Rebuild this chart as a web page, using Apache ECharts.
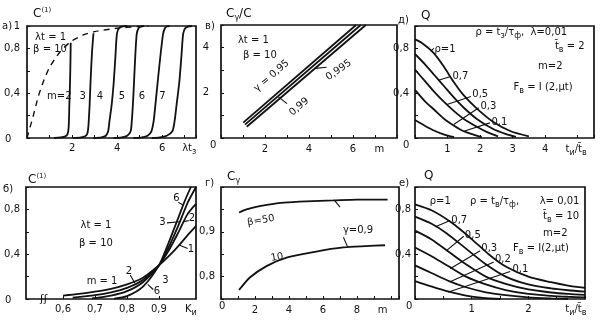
<!DOCTYPE html>
<html>
<head>
<meta charset="utf-8">
<script src="https://cdn.jsdelivr.net/npm/echarts@6/dist/echarts.min.js"></script>
<style>
  html, body { margin: 0; padding: 0; background: #fff; }
  #c { width: 605px; height: 322px; }
</style>
</head>
<body>
<div id="c"></div>
<script>
// ---------- panel а: C(1) against λt_з, curves for m = 2..7 ----------
const aEnvelope = [[0,0],[0.28,0.2],[0.5,0.37],[0.72,0.5],[1.0,0.63],[1.47,0.77],[1.94,0.86],[2.5,0.92],[3.0,0.95],[4.0,0.98],[4.9,0.995],[5.4,1.0]];
const aM2 = [[1.2,0],[1.5,0.005],[1.7,0.015],[1.8,0.035],[1.85,0.1],[1.88,0.3],[1.91,0.5],[1.93,0.7],[1.94,0.85]];
const aM3 = [[2.05,0],[2.4,0.005],[2.58,0.015],[2.68,0.04],[2.73,0.12],[2.78,0.3],[2.82,0.5],[2.88,0.75],[2.95,0.935]];
const aM4 = [[2.95,0],[3.3,0.005],[3.5,0.02],[3.6,0.06],[3.66,0.15],[3.76,0.3],[3.85,0.5],[3.93,0.75],[3.99,0.93],[4.08,0.98],[4.25,0.997],[4.45,1.0]];
const aM5 = [[3.84,0],[4.2,0.005],[4.45,0.02],[4.6,0.06],[4.65,0.15],[4.7,0.3],[4.75,0.5],[4.81,0.75],[4.87,0.93],[4.95,0.98],[5.05,0.995],[5.2,1.0]];
const aM6 = [[4.73,0],[5.1,0.005],[5.35,0.02],[5.52,0.06],[5.62,0.15],[5.7,0.3],[5.8,0.5],[5.93,0.75],[6.04,0.93],[6.12,0.98],[6.2,0.995],[6.32,1.0]];
const aM7 = [[5.54,0],[5.9,0.005],[6.2,0.02],[6.45,0.06],[6.55,0.15],[6.64,0.3],[6.76,0.5],[6.86,0.75],[6.93,0.93],[7.02,0.98],[7.15,0.995],[7.32,1.0]];
const aXLabels = [2, 4, 6, 7.2];
const aYLabels = [0.4, 0.8, 1];

// ---------- panel в: Cγ/C against m ----------
const vG095  = [[1.01,0.68],[6.14,5.0]];
const vG099  = [[1.09,0.59],[6.35,5.0]];
const vG0995 = [[1.17,0.50],[6.58,5.0]];
const vLead099  = [[2.6,1.83],[3.0,1.52]];
const vLead0995 = [[4.27,3.08],[4.8,3.13]];
const vXLabels = [2, 4, 6, 7.2];
const vYLabels = [2, 4];

// ---------- panel д: Q against t_и / t̄_в, t̄_в = 2 ----------
const dRho1  = [[0,0.88],[0.2,0.85],[0.57,0.76],[0.88,0.64],[1.19,0.5],[1.5,0.38],[1.91,0.26],[2.42,0.14],[2.94,0.06],[3.5,0.015]];
const dRho07 = [[0,0.75],[0.3,0.66],[0.6,0.56],[0.9,0.46],[1.2,0.36],[1.5,0.27],[1.9,0.17],[2.4,0.08],[2.8,0.035],[3.1,0.01]];
const dRho05 = [[0,0.61],[0.3,0.51],[0.6,0.41],[0.9,0.32],[1.2,0.24],[1.5,0.17],[1.9,0.1],[2.2,0.055],[2.55,0.015]];
const dRho03 = [[0,0.43],[0.3,0.33],[0.6,0.25],[0.9,0.17],[1.2,0.11],[1.5,0.06],[1.8,0.03],[2.05,0.008]];
const dRho01 = [[0,0.16],[0.3,0.11],[0.6,0.065],[0.9,0.03],[1.2,0.008]];
const dLead1  = [[0.48,0.775],[0.58,0.8]];
const dLead07 = [[1.1,0.55],[0.72,0.515]];
const dLead05 = [[1.72,0.37],[0.98,0.3]];
const dLead03 = [[1.96,0.27],[1.19,0.12]];
const dLead01 = [[2.3,0.135],[1.5,0.06]];
const dXLabels = [1, 2, 3, 4, 4.95];
const dYLabels = [0.4, 0.8];

// ---------- panel б: C(1) against K_и ----------
const bM1 = [[0.6,0.03],[0.65,0.045],[0.7,0.065],[0.75,0.09],[0.8,0.13],[0.85,0.19],[0.9,0.3],[0.93,0.38],[0.96,0.47],[0.99,0.57],[1.016,0.65]];
const bM2 = [[0.63,0.012],[0.7,0.035],[0.75,0.06],[0.8,0.1],[0.85,0.17],[0.9,0.3],[0.93,0.43],[0.96,0.59],[0.99,0.76],[1.016,0.85]];
const bM3 = [[0.69,0.005],[0.75,0.03],[0.8,0.07],[0.85,0.15],[0.9,0.3],[0.93,0.46],[0.96,0.65],[0.99,0.86],[1.016,1.0]];
const bM6 = [[0.76,0.003],[0.8,0.025],[0.85,0.11],[0.9,0.3],[0.93,0.5],[0.96,0.72],[0.98,0.87],[1.0,1.0]];
const bLead2b = [[0.81,0.215],[0.825,0.14]];
const bLead6b = [[0.865,0.13],[0.882,0.085]];
const bLead6t = [[0.96,0.865],[0.975,0.84]];
const bLead3t = [[0.925,0.68],[0.965,0.69]];
const bLead2t = [[0.975,0.69],[0.993,0.7]];
const bLead1t = [[0.965,0.48],[0.99,0.45]];
const bXLabels = [0.6, 0.7, 0.8, 0.9, 1.0];
const bYLabels = [0.4, 0.8];

// ---------- panel г: Cγ against m ----------
const gB50 = [[1.06,0.943],[1.5,0.95],[2,0.955],[2.7,0.96],[3.7,0.965],[5,0.968],[6.6,0.97],[8,0.972],[9.8,0.972]];
const gB10 = [[1.06,0.77],[1.7,0.798],[2.7,0.824],[3.9,0.843],[5.6,0.856],[7.2,0.865],[8.5,0.868],[9.65,0.87]];
const gLeadUp  = [[6.7,0.969],[7.0,0.955]];
const gLeadLow = [[7.2,0.888],[7.45,0.866]];
const gXLabels = [2, 4, 6, 8, 9.5];
const gYLabels = [0.8, 0.9];

// ---------- panel е: Q against t_и / t̄_в, t̄_в = 10 ----------
const eRho1  = [[0,0.845],[0.3,0.79],[0.65,0.68],[1.0,0.535],[1.3,0.4],[1.6,0.29],[2.0,0.2],[2.4,0.15],[2.7,0.12],[3.0,0.1]];
const eRho07 = [[0,0.735],[0.3,0.67],[0.55,0.59],[0.9,0.45],[1.25,0.31],[1.6,0.2],[2.0,0.13],[2.4,0.095],[2.7,0.078],[3.0,0.065]];
const eRho05 = [[0,0.61],[0.3,0.53],[0.6,0.42],[0.9,0.31],[1.25,0.2],[1.6,0.135],[2.0,0.085],[2.4,0.058],[2.7,0.045],[3.0,0.036]];
const eRho03 = [[0,0.46],[0.3,0.38],[0.6,0.29],[0.9,0.2],[1.25,0.13],[1.6,0.08],[2.0,0.045],[2.4,0.028],[2.7,0.02],[3.0,0.015]];
const eRho02 = [[0,0.3],[0.3,0.23],[0.6,0.16],[0.9,0.105],[1.25,0.06],[1.6,0.035],[2.0,0.015],[2.4,0.005],[2.7,0.0]];
const eRho01 = [[0,0.16],[0.3,0.11],[0.6,0.065],[0.9,0.03],[1.2,0.01],[1.5,0.0]];
const eLead07 = [[0.62,0.70],[0.36,0.645]];
const eLead05 = [[0.86,0.56],[0.55,0.43]];
const eLead03 = [[1.15,0.43],[0.62,0.27]];
const eLead02 = [[1.39,0.33],[0.62,0.155]];
const eLead01 = [[1.68,0.245],[0.58,0.06]];
const eXLabels = [1, 2, 2.84];
const eYLabels = [0.4, 0.8];

// ---------- drawing ----------
const INK = '#111111';
const FONT = 'DejaVu Sans';
const RICH = {
  sub: { fontSize: 8, fontFamily: FONT, color: INK, fill: INK, verticalAlign: 'bottom', lineHeight: 15 },
  sup: { fontSize: 7, fontFamily: FONT, color: INK, fill: INK, verticalAlign: 'top', lineHeight: 15 }
};
const comma = v => (v === 0 ? '0' : String(+v.toFixed(2)).replace('.', ','));

const grids = [
  { left: 27,  top: 26,  width: 169, height: 112 },  // а
  { left: 221, top: 25,  width: 176, height: 113 },  // в
  { left: 415, top: 26,  width: 179, height: 112 },  // д
  { left: 26,  top: 187, width: 170, height: 112 },  // б
  { left: 221, top: 187, width: 178, height: 112 },  // г
  { left: 415, top: 187, width: 170, height: 112 }   // е
].map(g => Object.assign(g, { show: true, borderColor: INK, borderWidth: 1.7, backgroundColor: 'transparent' }));

function axis(gi, min, max, interval, labels, fmt, margin) {
  return {
    type: 'value', gridIndex: gi, min, max, interval,
    axisLine: { show: false },
    splitLine: { show: false },
    axisTick: { show: true, inside: true, length: 3, lineStyle: { color: INK, width: 1 } },
    axisLabel: {
      customValues: labels, formatter: fmt, margin,
      color: INK, fontFamily: FONT, fontSize: 10, lineHeight: 15, rich: RICH
    }
  };
}
const tName = 't{sub|и}/t\u0304{sub|в}';
const xAxes = [
  axis(0, 0, 7.5, 1, aXLabels, v => v > 7 ? 'λt{sub|з}' : String(v), 3),
  axis(1, 0, 8, 1, vXLabels, v => v > 7 ? 'm' : String(v), 4),
  axis(2, 0, 5.5, 1, dXLabels, v => v > 4.5 ? tName : String(v), 4),
  axis(3, 0.484, 1.016, null, bXLabels, v => v > 0.95 ? 'K{sub|и}' : comma(v), 3),
  axis(4, 0, 10.47, 1, gXLabels, v => v > 9 ? 'm' : String(v), 4),
  axis(5, 0, 3, 0.5, eXLabels, v => v > 2.5 ? tName : String(v), 3)
];
xAxes[3].axisTick.customValues = [0.6, 0.7, 0.8, 0.9];
xAxes[3].interval = undefined;
const yAxes = [
  axis(0, 0, 1, 0.2, aYLabels, comma, 7),
  axis(1, 0, 5, 1, vYLabels, v => String(v), 12),
  axis(2, 0, 1, 0.2, dYLabels, comma, 6),
  axis(3, 0, 1, 0.2, bYLabels, comma, 6),
  axis(4, 0.75, 1.0, 0.05, gYLabels, comma, 6),
  axis(5, 0, 1, 0.2, eYLabels, comma, 4)
];

function curve(gi, data, extra) {
  return Object.assign({
    type: 'line', xAxisIndex: gi, yAxisIndex: gi, data,
    showSymbol: false, symbol: 'none', smooth: 0.25, silent: true, animation: false,
    lineStyle: { color: INK, width: 1.8 }
  }, extra || {});
}
function leader(gi, data) {
  return curve(gi, data, { smooth: false, lineStyle: { color: INK, width: 1.1 } });
}

const series = [
  curve(0, aEnvelope, { lineStyle: { color: INK, width: 1.4, type: [6, 5] } }),
  curve(0, aM2), curve(0, aM3), curve(0, aM4), curve(0, aM5), curve(0, aM6), curve(0, aM7),

  curve(1, vG095, { smooth: false }), curve(1, vG099, { smooth: false }), curve(1, vG0995, { smooth: false }),
  leader(1, vLead099), leader(1, vLead0995),

  curve(2, dRho1), curve(2, dRho07), curve(2, dRho05), curve(2, dRho03), curve(2, dRho01),
  leader(2, dLead1), leader(2, dLead07), leader(2, dLead05), leader(2, dLead03), leader(2, dLead01),

  curve(3, bM1), curve(3, bM2), curve(3, bM3), curve(3, bM6),
  leader(3, bLead2b), leader(3, bLead6b), leader(3, bLead6t), leader(3, bLead3t), leader(3, bLead2t), leader(3, bLead1t),

  curve(4, gB50), curve(4, gB10), leader(4, gLeadUp), leader(4, gLeadLow),

  curve(5, eRho1), curve(5, eRho07), curve(5, eRho05), curve(5, eRho03), curve(5, eRho02), curve(5, eRho01),
  leader(5, eLead07), leader(5, eLead05), leader(5, eLead03), leader(5, eLead02), leader(5, eLead01)
];

const chart = echarts.init(document.getElementById('c'), null, { renderer: 'canvas' });
chart.setOption({
  animation: false,
  backgroundColor: '#ffffff',
  grid: grids, xAxis: xAxes, yAxis: yAxes, series
});

// Annotations placed in each panel's own data coordinates
const notes = [
  // а
  { g: 0, at: [0.36, 0.9], t: 'λt = 1' },
  { g: 0, at: [0.27, 0.79], t: 'β = 10' },
  { g: 0, at: [0.89, 0.37], t: 'm=2' },
  { g: 0, at: [2.47, 0.37], t: '3', c: 1 },
  { g: 0, at: [3.24, 0.37], t: '4', c: 1 },
  { g: 0, at: [4.21, 0.37], t: '5', c: 1 },
  { g: 0, at: [5.1, 0.37], t: '6', c: 1 },
  { g: 0, at: [6.01, 0.37], t: '7', c: 1 },
  // в
  { g: 1, at: [0.77, 4.3], t: 'λt = 1' },
  { g: 1, at: [1.0, 3.65], t: 'β = 10' },
  { g: 1, at: [2.3, 2.75], t: 'γ = 0,95', c: 1, r: 41 },
  { g: 1, at: [3.55, 1.38], t: '0,99', c: 1, r: 41 },
  { g: 1, at: [5.35, 3.0], t: '0,995', c: 1, r: 35 },
  // д
  { g: 2, at: [0.6, 0.79], t: 'ρ=1' },
  { g: 2, at: [1.15, 0.55], t: '0,7' },
  { g: 2, at: [1.76, 0.385], t: '0,5' },
  { g: 2, at: [2.01, 0.28], t: '0,3' },
  { g: 2, at: [2.35, 0.14], t: '0,1' },
  { g: 2, at: [1.86, 0.945], t: 'ρ = t{sub|з}/τ{sub|ф},  λ=0,01' },
  { g: 2, at: [4.3, 0.82], t: 't\u0304{sub|в} = 2' },
  { g: 2, at: [3.78, 0.64], t: 'm=2' },
  { g: 2, at: [3.03, 0.45], t: 'F{sub|в} = I (2,μt)' },
  // б
  { g: 3, at: [0.703, 0.66], t: 'λt = 1', c: 1 },
  { g: 3, at: [0.703, 0.5], t: 'β = 10', c: 1 },
  { g: 3, at: [0.722, 0.155], t: 'm = 1', c: 1 },
  { g: 3, at: [0.806, 0.25], t: '2', c: 1 },
  { g: 3, at: [0.92, 0.165], t: '3', c: 1 },
  { g: 3, at: [0.894, 0.065], t: '6', c: 1 },
  { g: 3, at: [0.955, 0.9], t: '6', c: 1 },
  { g: 3, at: [0.911, 0.68], t: '3', c: 1 },
  { g: 3, at: [1.003, 0.72], t: '2', c: 1 },
  { g: 3, at: [1.0, 0.44], t: '1', c: 1 },
  // г
  { g: 4, at: [2.35, 0.925], t: 'β=50', c: 1, r: 10 },
  { g: 4, at: [3.3, 0.843], t: '10', c: 1, r: 10 },
  { g: 4, at: [8.06, 0.902], t: 'γ=0,9', c: 1 },
  // е
  { g: 5, at: [0.26, 0.875], t: 'ρ=1' },
  { g: 5, at: [0.97, 0.875], t: 'ρ = t{sub|в}/τ{sub|ф},' },
  { g: 5, at: [2.2, 0.875], t: 'λ= 0,01' },
  { g: 5, at: [2.26, 0.74], t: 't\u0304{sub|в} = 10' },
  { g: 5, at: [2.26, 0.59], t: 'm=2' },
  { g: 5, at: [1.73, 0.455], t: 'F{sub|в} = I(2,μt)' },
  { g: 5, at: [0.64, 0.705], t: '0,7' },
  { g: 5, at: [0.88, 0.57], t: '0,5' },
  { g: 5, at: [1.17, 0.455], t: '0,3' },
  { g: 5, at: [1.41, 0.35], t: '0,2' },
  { g: 5, at: [1.72, 0.265], t: '0,1' }
];

// Panel letters, axis titles and origin marks, placed around the frames
const frameText = [
  { p: [2, 26], t: 'а)' }, { p: [33, 14], t: 'C{sup|(1)}', s: 12 },
  { p: [205, 26], t: 'в)' }, { p: [226, 14], t: 'C{sub|γ}/C', s: 12 },
  { p: [398, 20], t: 'д)' }, { p: [421, 16], t: 'Q', s: 12 },
  { p: [3, 189], t: 'б)' }, { p: [28, 180], t: 'C{sup|(1)}', s: 12 },
  { p: [205, 183], t: 'г)' }, { p: [227, 177], t: 'C{sub|γ}', s: 12 },
  { p: [399, 183], t: 'е)' }, { p: [424, 176], t: 'Q', s: 12 },
  { p: [5, 139], t: '0' }, { p: [5, 300], t: '0' }, { p: [210, 145], t: '0' },
  { p: [219, 306], t: '0' }, { p: [403, 145], t: '0' }, { p: [406, 306], t: '0' },
  { p: [40, 299], t: 'ʃʃ', s: 11 }
];

function textEl(x, y, n, size) {
  return {
    type: 'text', x, y, silent: true, z: 100,
    rotation: (n.r || 0) * Math.PI / 180,
    style: {
      text: n.t, fill: INK, fontFamily: FONT, fontSize: size, lineHeight: 15,
      align: n.c ? 'center' : 'left', verticalAlign: 'middle',
      rich: {
        sub: { fontSize: 8, fontFamily: FONT, fill: INK, verticalAlign: 'bottom', lineHeight: 15 },
        sup: { fontSize: 7, fontFamily: FONT, fill: INK, verticalAlign: 'top', lineHeight: 15 }
      }
    }
  };
}

const gfx = [];
notes.forEach(n => {
  const p = chart.convertToPixel({ gridIndex: n.g }, n.at);
  gfx.push(textEl(p[0], p[1], n, 10));
});
frameText.forEach(n => gfx.push(textEl(n.p[0], n.p[1], n, n.s || 10)));
chart.setOption({ graphic: gfx });
</script>
</body>
</html>
